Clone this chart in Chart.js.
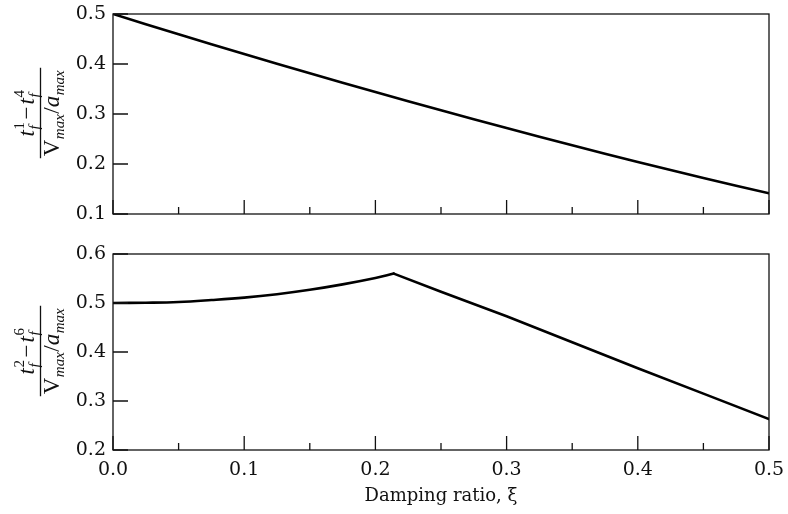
<!DOCTYPE html>
<html><head><meta charset="utf-8">
<script src="https://cdn.jsdelivr.net/npm/chart.js@4/dist/chart.umd.min.js"></script>
<style>
html,body{margin:0;padding:0;background:#fff;}
#wrap{position:relative;width:788px;height:514px;}
canvas{position:absolute;left:0;}
</style>
</head><body>
<div id="wrap">
<canvas id="c1" width="788" height="240" style="top:0px"></canvas>
<canvas id="c2" width="788" height="274" style="top:240px"></canvas>
</div>
<script>
// ---- data ----
const dampingTop = [0, 0.05, 0.1, 0.15, 0.2, 0.25, 0.3, 0.35, 0.4, 0.45, 0.5];
const ratioTop   = [0.5, 0.4595, 0.420, 0.3815, 0.344, 0.3075, 0.272, 0.2375, 0.204, 0.172, 0.1415];

// rising branch up to the kink, then falling branch
const dampingBottomRise = [0, 0.025, 0.05, 0.075, 0.1, 0.125, 0.15, 0.175, 0.2, 0.214];
const ratioBottomRise   = [0.5, 0.5005, 0.502, 0.506, 0.511, 0.518, 0.527, 0.538, 0.551, 0.560];
const dampingBottomFall = [0.214, 0.25, 0.3, 0.35, 0.4, 0.45, 0.5];
const ratioBottomFall   = [0.560, 0.523, 0.473, 0.420, 0.367, 0.315, 0.263];

const xTickValues = [0, 0.05, 0.1, 0.15, 0.2, 0.25, 0.3, 0.35, 0.4, 0.45, 0.5];
const xTickLabels = ['0.0', '', '0.1', '', '0.2', '', '0.3', '', '0.4', '', '0.5'];
const topYTickValues = [0.1, 0.2, 0.3, 0.4, 0.5];
const topYTickLabels = ['0.1', '0.2', '0.3', '0.4', '0.5'];
const bottomYTickValues = [0.2, 0.3, 0.4, 0.5, 0.6];
const bottomYTickLabels = ['0.2', '0.3', '0.4', '0.5', '0.6'];
const xTitle = 'Damping ratio, ξ';

const FAM = '"DejaVu Serif", serif';
const MATH = '"Liberation Serif", "DejaVu Serif", serif';
const INK = '#111';

// fraction y-axis titles
const topNum = [{t:'t', it:true, sub:'f', sup:'1'}, {t:'\u2212', it:false, pad:2}, {t:'t', it:true, sub:'f', sup:'4'}];
const topDen = [{t:'V', it:false, sub:'max'}, {t:'/', it:false}, {t:'a', it:true, sub:'max'}];
const botNum = [{t:'t', it:true, sub:'f', sup:'2'}, {t:'\u2212', it:false, pad:2}, {t:'t', it:true, sub:'f', sup:'6'}];
const botDen = topDen;

function richWidth(ctx, parts, B, S){
  let w = 0;
  for (const p of parts){
    ctx.font = (p.it?'italic ':'') + B + 'px ' + MATH;
    const bw = ctx.measureText(p.t).width + 2*(p.pad||0);
    let sw = 0;
    if (p.sub){ ctx.font = 'italic ' + S + 'px ' + MATH; sw = Math.max(sw, ctx.measureText(p.sub).width + 1); }
    if (p.sup){ ctx.font = S + 'px ' + MATH; sw = Math.max(sw, ctx.measureText(p.sup).width + 1); }
    w += bw + sw;
  }
  return w;
}
function richDraw(ctx, parts, u, v, B, S){
  for (const p of parts){
    ctx.font = (p.it?'italic ':'') + B + 'px ' + MATH;
    u += (p.pad||0);
    ctx.fillText(p.t, u, v);
    const bw = ctx.measureText(p.t).width;
    u += bw + (p.pad||0);
    let sw = 0;
    if (p.sub){ ctx.font = 'italic ' + S + 'px ' + MATH; ctx.fillText(p.sub, u + 0.5, v + 5); sw = Math.max(sw, ctx.measureText(p.sub).width + 1); }
    if (p.sup){ ctx.font = S + 'px ' + MATH; ctx.fillText(p.sup, u + 0.5, v - 10); sw = Math.max(sw, ctx.measureText(p.sup).width + 1); }
    u += sw;
  }
}
function drawFraction(ctx, cx, cy, num, den){
  const B = 23, S = 15;
  const nw = richWidth(ctx, num, B, S), dw = richWidth(ctx, den, B, S);
  const bar = Math.max(nw, dw) + 4;
  ctx.save();
  ctx.translate(cx, cy);
  ctx.rotate(-Math.PI/2);
  ctx.fillStyle = INK; ctx.strokeStyle = INK;
  ctx.textBaseline = 'alphabetic'; ctx.textAlign = 'left';
  ctx.lineWidth = 1.3;
  ctx.beginPath(); ctx.moveTo(-bar/2, 0); ctx.lineTo(bar/2, 0); ctx.stroke();
  richDraw(ctx, num, -nw/2, -7, B, S);
  richDraw(ctx, den, -dw/2, 18, B, S);
  ctx.restore();
}

const framePlugin = {
  id: 'frameTicks',
  afterDatasetsDraw(chart, args, opts){
    const {ctx, chartArea:a, scales:{x, y}} = chart;
    ctx.save();
    ctx.strokeStyle = INK; ctx.lineWidth = 1.3;
    ctx.strokeRect(a.left, a.top, a.right - a.left, a.bottom - a.top);
    ctx.beginPath();
    x.ticks.forEach((t, i) => {
      const px = x.getPixelForValue(t.value);
      const L = xTickLabels[i] !== '' ? 14 : 7;
      ctx.moveTo(px, a.bottom); ctx.lineTo(px, a.bottom - L);
    });
    y.ticks.forEach(t => {
      const py = y.getPixelForValue(t.value);
      ctx.moveTo(a.left, py); ctx.lineTo(a.left + 15, py);
    });
    ctx.stroke();
    ctx.restore();
    drawFraction(ctx, 40.5, (a.top + a.bottom)/2 - 1, opts.num, opts.den);
  }
};

function series(xs, ys, tension){
  return { data: xs.map((v, i) => ({x: v, y: ys[i]})), borderColor: '#000', borderWidth: 2.6,
           pointRadius: 0, tension: tension, fill: false, borderCapStyle: 'round', borderJoinStyle: 'round' };
}

function makeChart(id, datasets, yVals, yLabels, showX, padTop, xHeight, frac){
  return new Chart(document.getElementById(id), {
    type: 'line',
    data: { datasets },
    options: {
      responsive: false, animation: false, devicePixelRatio: 1,
      layout: { padding: { top: padTop, right: 19, left: 0, bottom: 0 } },
      plugins: { legend: { display: false }, tooltip: { enabled: false }, frameTicks: frac },
      scales: {
        x: {
          type: 'linear', min: 0, max: 0.5,
          afterBuildTicks: s => { s.ticks = xTickValues.map(v => ({value: v})); },
          afterFit: s => { s.height = xHeight; s.paddingLeft = 0; s.paddingRight = 0; },
          grid: { display: false, drawTicks: false },
          border: { display: false },
          ticks: { display: showX, autoSkip: false, maxRotation: 0, padding: 9, color: INK,
                   font: { family: FAM, size: 19 },
                   callback: (v, i) => xTickLabels[i] },
          title: { display: showX, text: xTitle, color: INK, font: { family: FAM, size: 18 }, padding: { top: 0, bottom: 7 } }
        },
        y: {
          type: 'linear', min: yVals[0], max: yVals[yVals.length - 1],
          afterBuildTicks: s => { s.ticks = yVals.map(v => ({value: v})); },
          afterFit: s => { s.width = 113; s.paddingTop = 0; s.paddingBottom = 0; },
          grid: { display: false, drawTicks: false },
          border: { display: false },
          ticks: { autoSkip: false, padding: 7, color: INK, font: { family: FAM, size: 19 },
                   callback: (v, i) => yLabels[i] }
        }
      }
    },
    plugins: [framePlugin]
  });
}

makeChart('c1', [series(dampingTop, ratioTop, 0.4)], topYTickValues, topYTickLabels, false, 14, 26, { num: topNum, den: topDen });
makeChart('c2', [series(dampingBottomRise, ratioBottomRise, 0.4), series(dampingBottomFall, ratioBottomFall, 0)],
          bottomYTickValues, bottomYTickLabels, true, 14, 64, { num: botNum, den: botDen });
</script>
</body></html>
